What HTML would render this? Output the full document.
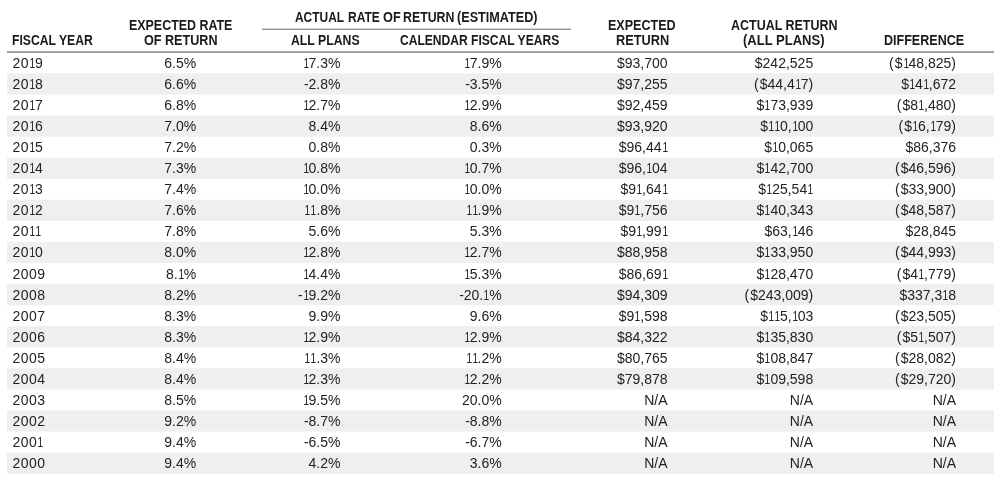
<!DOCTYPE html><html><head><meta charset="utf-8"><title>Rates of return</title><style>

*{margin:0;padding:0;box-sizing:border-box}
html,body{width:1000px;height:489px;background:#fff;overflow:hidden}
body{font-family:"Liberation Sans",sans-serif;position:relative}
#w{position:absolute;left:0;top:0;width:1000px;height:489px;will-change:transform}
.h{position:absolute;white-space:nowrap;font-weight:bold;font-size:14px;line-height:14px;color:#1a1a1a;transform-origin:center top}
.ln{position:absolute}
.r{position:absolute;left:7px;width:986.5px;height:21.05px}

.c i{font-style:normal}
.c b{font-weight:normal;letter-spacing:1.0px}
.c i{display:inline-block;width:6.0px;transform-origin:0 0;transform:translateX(0.4px) scaleX(0.72)}
.c{position:absolute;top:4px;white-space:nowrap;font-size:14px;line-height:14px;color:#222}

</style></head><body><div id="w">
<div class="h" style="left:295.38px;top:10px;transform-origin:0 0;transform:scaleX(0.8525)">ACTUAL</div>
<div class="h" style="left:348.25px;top:10px;transform-origin:0 0;transform:scaleX(0.8604)">RATE</div>
<div class="h" style="left:382.85px;top:10px;transform-origin:0 0;transform:scaleX(0.9075)">OF</div>
<div class="h" style="left:402.84px;top:10px;transform-origin:0 0;transform:scaleX(0.8818)">RETURN</div>
<div class="h" style="left:457.18px;top:10px;transform-origin:0 0;transform:scaleX(0.9028)">(ESTIMATED)</div>
<div class="h" style="left:12.15px;top:33px;transform-origin:0 0;transform:scaleX(0.8711)">FISCAL YEAR</div>
<div class="h" style="left:128.53px;top:18px;transform-origin:0 0;transform:scaleX(0.8878)">EXPECTED RATE</div>
<div class="h" style="left:143.77px;top:33px;transform-origin:0 0;transform:scaleX(0.9005)">OF RETURN</div>
<div class="h" style="left:291.06px;top:33px;transform-origin:0 0;transform:scaleX(0.8767)">ALL PLANS</div>
<div class="h" style="left:400.31px;top:33px;transform-origin:0 0;transform:scaleX(0.8623)">CALENDAR FISCAL YEARS</div>
<div class="h" style="left:608.43px;top:18px;transform-origin:0 0;transform:scaleX(0.8968)">EXPECTED</div>
<div class="h" style="left:615.63px;top:33px;transform-origin:0 0;transform:scaleX(0.9118)">RETURN</div>
<div class="h" style="left:731.05px;top:18px;transform-origin:0 0;transform:scaleX(0.8912)">ACTUAL RETURN</div>
<div class="h" style="left:743.45px;top:33px;transform-origin:0 0;transform:scaleX(0.9302)">(ALL PLANS)</div>
<div class="h" style="left:884.43px;top:33px;transform-origin:0 0;transform:scaleX(0.8956)">DIFFERENCE</div>
<div class="ln" style="left:7px;top:51px;width:986.5px;height:1px;background:#a8aeb2"></div>
<div class="ln" style="left:7px;top:52px;width:986.5px;height:1px;background:#90989c"></div>
<div class="ln" style="left:262.4px;top:28px;width:309px;height:1px;background:#d0d4d6"></div>
<div class="ln" style="left:262.4px;top:29px;width:309px;height:1px;background:#8f979b"></div>
<div class="r" style="top:52.00px"><span class="c" style="left:5.5px;letter-spacing:0.45px">20<i>1</i>9</span><span class="c" style="right:797.3px">6.5%</span><span class="c" style="right:653.0px"><i>1</i>7.3%</span><span class="c" style="right:491.8px"><i>1</i>7.9%</span><span class="c" style="right:326.0px">$93,700</span><span class="c" style="right:180.3px">$242,525</span><span class="c" style="right:37.5px"><b>(</b>$<i>1</i>48,825)</span></div>
<div class="ln" style="left:7px;top:74px;width:986.5px;height:20px;background:rgb(238,239,241)"></div>
<div class="ln" style="left:7px;top:73px;width:986.5px;height:1px;background:rgb(243,243,245)"></div>
<div class="ln" style="left:7px;top:94px;width:986.5px;height:1px;background:rgb(246,247,248)"></div>
<div class="r" style="top:73.05px"><span class="c" style="left:5.5px;letter-spacing:0.45px">20<i>1</i>8</span><span class="c" style="right:797.3px">6.6%</span><span class="c" style="right:653.0px">-2.8%</span><span class="c" style="right:491.8px">-3.5%</span><span class="c" style="right:326.0px">$97,255</span><span class="c" style="right:180.3px"><b>(</b>$44,4<i>1</i>7)</span><span class="c" style="right:37.5px">$<i>1</i>4<i>1</i>,672</span></div>
<div class="r" style="top:94.10px"><span class="c" style="left:5.5px;letter-spacing:0.45px">20<i>1</i>7</span><span class="c" style="right:797.3px">6.8%</span><span class="c" style="right:653.0px"><i>1</i>2.7%</span><span class="c" style="right:491.8px"><i>1</i>2.9%</span><span class="c" style="right:326.0px">$92,459</span><span class="c" style="right:180.3px">$<i>1</i>73,939</span><span class="c" style="right:37.5px"><b>(</b>$8<i>1</i>,480)</span></div>
<div class="ln" style="left:7px;top:116px;width:986.5px;height:20px;background:rgb(238,239,241)"></div>
<div class="ln" style="left:7px;top:115px;width:986.5px;height:1px;background:rgb(245,246,247)"></div>
<div class="ln" style="left:7px;top:136px;width:986.5px;height:1px;background:rgb(244,244,246)"></div>
<div class="r" style="top:115.15px"><span class="c" style="left:5.5px;letter-spacing:0.45px">20<i>1</i>6</span><span class="c" style="right:797.3px">7.0%</span><span class="c" style="right:653.0px">8.4%</span><span class="c" style="right:491.8px">8.6%</span><span class="c" style="right:326.0px">$93,920</span><span class="c" style="right:180.3px">$<i>1</i><i>1</i>0,<i>1</i>00</span><span class="c" style="right:37.5px"><b>(</b>$<i>1</i>6,<i>1</i>79)</span></div>
<div class="r" style="top:136.20px"><span class="c" style="left:5.5px;letter-spacing:0.45px">20<i>1</i>5</span><span class="c" style="right:797.3px">7.2%</span><span class="c" style="right:653.0px">0.8%</span><span class="c" style="right:491.8px">0.3%</span><span class="c" style="right:326.0px">$96,44<i>1</i></span><span class="c" style="right:180.3px">$<i>1</i>0,065</span><span class="c" style="right:37.5px">$86,376</span></div>
<div class="ln" style="left:7px;top:158px;width:986.5px;height:20px;background:rgb(238,239,241)"></div>
<div class="ln" style="left:7px;top:157px;width:986.5px;height:1px;background:rgb(247,248,249)"></div>
<div class="ln" style="left:7px;top:178px;width:986.5px;height:1px;background:rgb(241,242,244)"></div>
<div class="r" style="top:157.25px"><span class="c" style="left:5.5px;letter-spacing:0.45px">20<i>1</i>4</span><span class="c" style="right:797.3px">7.3%</span><span class="c" style="right:653.0px"><i>1</i>0.8%</span><span class="c" style="right:491.8px"><i>1</i>0.7%</span><span class="c" style="right:326.0px">$96,<i>1</i>04</span><span class="c" style="right:180.3px">$<i>1</i>42,700</span><span class="c" style="right:37.5px"><b>(</b>$46,596)</span></div>
<div class="r" style="top:178.30px"><span class="c" style="left:5.5px;letter-spacing:0.45px">20<i>1</i>3</span><span class="c" style="right:797.3px">7.4%</span><span class="c" style="right:653.0px"><i>1</i>0.0%</span><span class="c" style="right:491.8px"><i>1</i>0.0%</span><span class="c" style="right:326.0px">$9<i>1</i>,64<i>1</i></span><span class="c" style="right:180.3px">$<i>1</i>25,54<i>1</i></span><span class="c" style="right:37.5px"><b>(</b>$33,900)</span></div>
<div class="ln" style="left:7px;top:200px;width:986.5px;height:20px;background:rgb(238,239,241)"></div>
<div class="ln" style="left:7px;top:199px;width:986.5px;height:1px;background:rgb(250,250,251)"></div>
<div class="ln" style="left:7px;top:220px;width:986.5px;height:1px;background:rgb(239,240,242)"></div>
<div class="r" style="top:199.35px"><span class="c" style="left:5.5px;letter-spacing:0.45px">20<i>1</i>2</span><span class="c" style="right:797.3px">7.6%</span><span class="c" style="right:653.0px"><i>1</i><i>1</i>.8%</span><span class="c" style="right:491.8px"><i>1</i><i>1</i>.9%</span><span class="c" style="right:326.0px">$9<i>1</i>,756</span><span class="c" style="right:180.3px">$<i>1</i>40,343</span><span class="c" style="right:37.5px"><b>(</b>$48,587)</span></div>
<div class="r" style="top:220.40px"><span class="c" style="left:5.5px;letter-spacing:0.45px">20<i>1</i><i>1</i></span><span class="c" style="right:797.3px">7.8%</span><span class="c" style="right:653.0px">5.6%</span><span class="c" style="right:491.8px">5.3%</span><span class="c" style="right:326.0px">$9<i>1</i>,99<i>1</i></span><span class="c" style="right:180.3px">$63,<i>1</i>46</span><span class="c" style="right:37.5px">$28,845</span></div>
<div class="ln" style="left:7px;top:242px;width:986.5px;height:21px;background:rgb(238,239,241)"></div>
<div class="ln" style="left:7px;top:241px;width:986.5px;height:1px;background:rgb(252,252,253)"></div>
<div class="ln" style="left:7px;top:263px;width:986.5px;height:1px;background:rgb(254,254,254)"></div>
<div class="r" style="top:241.45px"><span class="c" style="left:5.5px;letter-spacing:0.45px">20<i>1</i>0</span><span class="c" style="right:797.3px">8.0%</span><span class="c" style="right:653.0px"><i>1</i>2.8%</span><span class="c" style="right:491.8px"><i>1</i>2.7%</span><span class="c" style="right:326.0px">$88,958</span><span class="c" style="right:180.3px">$<i>1</i>33,950</span><span class="c" style="right:37.5px"><b>(</b>$44,993)</span></div>
<div class="r" style="top:262.50px"><span class="c" style="left:5.5px;letter-spacing:0.45px">2009</span><span class="c" style="right:797.3px">8.<i>1</i>%</span><span class="c" style="right:653.0px"><i>1</i>4.4%</span><span class="c" style="right:491.8px"><i>1</i>5.3%</span><span class="c" style="right:326.0px">$86,69<i>1</i></span><span class="c" style="right:180.3px">$<i>1</i>28,470</span><span class="c" style="right:37.5px"><b>(</b>$4<i>1</i>,779)</span></div>
<div class="ln" style="left:7px;top:284px;width:986.5px;height:21px;background:rgb(238,239,241)"></div>
<div class="ln" style="left:7px;top:283px;width:986.5px;height:1px;background:rgb(254,255,255)"></div>
<div class="ln" style="left:7px;top:305px;width:986.5px;height:1px;background:rgb(251,251,252)"></div>
<div class="r" style="top:283.55px"><span class="c" style="left:5.5px;letter-spacing:0.45px">2008</span><span class="c" style="right:797.3px">8.2%</span><span class="c" style="right:653.0px">-<i>1</i>9.2%</span><span class="c" style="right:491.8px">-20.<i>1</i>%</span><span class="c" style="right:326.0px">$94,309</span><span class="c" style="right:180.3px"><b>(</b>$243,009)</span><span class="c" style="right:37.5px">$337,3<i>1</i>8</span></div>
<div class="r" style="top:304.60px"><span class="c" style="left:5.5px;letter-spacing:0.45px">2007</span><span class="c" style="right:797.3px">8.3%</span><span class="c" style="right:653.0px">9.9%</span><span class="c" style="right:491.8px">9.6%</span><span class="c" style="right:326.0px">$9<i>1</i>,598</span><span class="c" style="right:180.3px">$<i>1</i><i>1</i>5,<i>1</i>03</span><span class="c" style="right:37.5px"><b>(</b>$23,505)</span></div>
<div class="ln" style="left:7px;top:327px;width:986.5px;height:20px;background:rgb(238,239,241)"></div>
<div class="ln" style="left:7px;top:326px;width:986.5px;height:1px;background:rgb(240,241,243)"></div>
<div class="ln" style="left:7px;top:347px;width:986.5px;height:1px;background:rgb(249,249,250)"></div>
<div class="r" style="top:325.65px"><span class="c" style="left:5.5px;letter-spacing:0.45px">2006</span><span class="c" style="right:797.3px">8.3%</span><span class="c" style="right:653.0px"><i>1</i>2.9%</span><span class="c" style="right:491.8px"><i>1</i>2.9%</span><span class="c" style="right:326.0px">$84,322</span><span class="c" style="right:180.3px">$<i>1</i>35,830</span><span class="c" style="right:37.5px"><b>(</b>$5<i>1</i>,507)</span></div>
<div class="r" style="top:346.70px"><span class="c" style="left:5.5px;letter-spacing:0.45px">2005</span><span class="c" style="right:797.3px">8.4%</span><span class="c" style="right:653.0px"><i>1</i><i>1</i>.3%</span><span class="c" style="right:491.8px"><i>1</i><i>1</i>.2%</span><span class="c" style="right:326.0px">$80,765</span><span class="c" style="right:180.3px">$<i>1</i>08,847</span><span class="c" style="right:37.5px"><b>(</b>$28,082)</span></div>
<div class="ln" style="left:7px;top:369px;width:986.5px;height:20px;background:rgb(238,239,241)"></div>
<div class="ln" style="left:7px;top:368px;width:986.5px;height:1px;background:rgb(242,243,244)"></div>
<div class="ln" style="left:7px;top:389px;width:986.5px;height:1px;background:rgb(246,247,248)"></div>
<div class="r" style="top:367.75px"><span class="c" style="left:5.5px;letter-spacing:0.45px">2004</span><span class="c" style="right:797.3px">8.4%</span><span class="c" style="right:653.0px"><i>1</i>2.3%</span><span class="c" style="right:491.8px"><i>1</i>2.2%</span><span class="c" style="right:326.0px">$79,878</span><span class="c" style="right:180.3px">$<i>1</i>09,598</span><span class="c" style="right:37.5px"><b>(</b>$29,720)</span></div>
<div class="r" style="top:388.80px"><span class="c" style="left:5.5px;letter-spacing:0.45px">2003</span><span class="c" style="right:797.3px">8.5%</span><span class="c" style="right:653.0px"><i>1</i>9.5%</span><span class="c" style="right:491.8px">20.0%</span><span class="c" style="right:326.0px">N/A</span><span class="c" style="right:180.3px">N/A</span><span class="c" style="right:37.5px">N/A</span></div>
<div class="ln" style="left:7px;top:411px;width:986.5px;height:20px;background:rgb(238,239,241)"></div>
<div class="ln" style="left:7px;top:410px;width:986.5px;height:1px;background:rgb(245,245,246)"></div>
<div class="ln" style="left:7px;top:431px;width:986.5px;height:1px;background:rgb(244,245,246)"></div>
<div class="r" style="top:409.85px"><span class="c" style="left:5.5px;letter-spacing:0.45px">2002</span><span class="c" style="right:797.3px">9.2%</span><span class="c" style="right:653.0px">-8.7%</span><span class="c" style="right:491.8px">-8.8%</span><span class="c" style="right:326.0px">N/A</span><span class="c" style="right:180.3px">N/A</span><span class="c" style="right:37.5px">N/A</span></div>
<div class="r" style="top:430.90px"><span class="c" style="left:5.5px;letter-spacing:0.45px">200<i>1</i></span><span class="c" style="right:797.3px">9.4%</span><span class="c" style="right:653.0px">-6.5%</span><span class="c" style="right:491.8px">-6.7%</span><span class="c" style="right:326.0px">N/A</span><span class="c" style="right:180.3px">N/A</span><span class="c" style="right:37.5px">N/A</span></div>
<div class="ln" style="left:7px;top:453px;width:986.5px;height:20px;background:rgb(238,239,241)"></div>
<div class="ln" style="left:7px;top:452px;width:986.5px;height:1px;background:rgb(247,247,248)"></div>
<div class="ln" style="left:7px;top:473px;width:986.5px;height:1px;background:rgb(242,243,244)"></div>
<div class="r" style="top:451.95px"><span class="c" style="left:5.5px;letter-spacing:0.45px">2000</span><span class="c" style="right:797.3px">9.4%</span><span class="c" style="right:653.0px">4.2%</span><span class="c" style="right:491.8px">3.6%</span><span class="c" style="right:326.0px">N/A</span><span class="c" style="right:180.3px">N/A</span><span class="c" style="right:37.5px">N/A</span></div>
</div></body></html>
